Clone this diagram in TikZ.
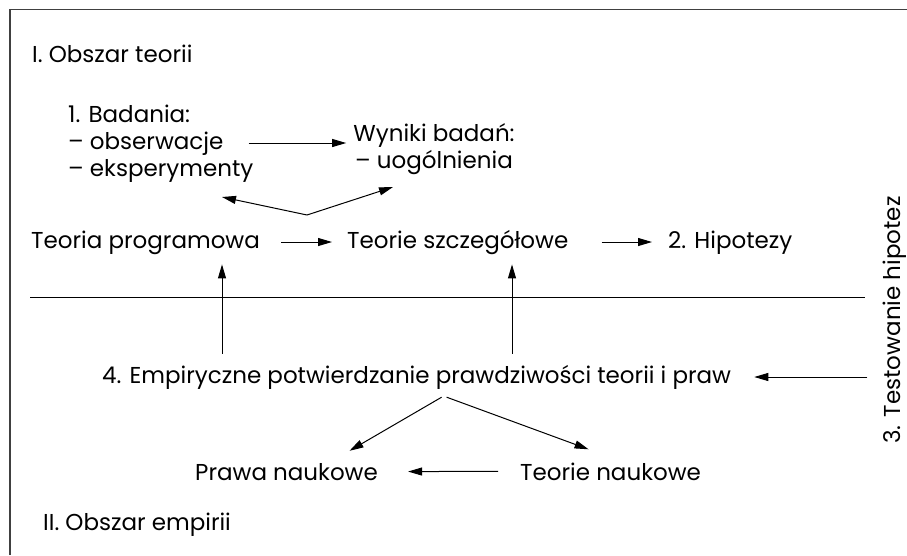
\documentclass[tikz,border=0pt]{standalone}
\usepackage{fontspec}
\setmainfont{Poppins}
\usetikzlibrary{arrows.meta,positioning,calc}

\begin{document}
\begin{tikzpicture}
[x=1pt,y=-1pt,
txt/.style={inner sep=0pt,font=\fontsize{23}{27}\selectfont},
block/.style={txt,align=left},
frame/.style={line width=1.6pt,draw=black!75},
myedge/.style={line width=1pt},
dedge/.style={myedge,-{Triangle[length=14pt,width=8pt]}}]
\useasboundingbox (0,0) rectangle (907,555);
%%
\draw[frame] (10,555) -- (10,9.5) -- (907,9.5);
\draw[myedge] (30,297) -- (865,297);
%%
\node (obszarT) [txt,anchor=base west] at (32,62) {I. Obszar teorii};
\node (badania) [block,anchor=north west] at (68,105) {1. Badania:\\– obserwacje\\– eksperymenty};
\node (wyniki) [txt,align=center,anchor=north] at (434,123) {Wyniki badań:\\– uogólnienia};
\node (programowa) [txt,anchor=base west] at (31,248) {Teoria programowa};
\node (szczegolowe) [txt,anchor=base west] at (347,248) {Teorie szczegółowe};
\node (hipotezy) [txt,anchor=base west] at (668,248) {2. Hipotezy};
\node (testowanie) [txt,anchor=base,rotate=90] at (900,320) {3. Testowanie hipotez};
\node (potwierdzanie) [txt,anchor=base west] at (102,383) {4. Empiryczne potwierdzanie prawdziwości teorii i praw};
\node (prawa) [txt,anchor=base west] at (195,480) {Prawa naukowe};
\node (teorie) [txt,anchor=base west] at (520,480) {Teorie naukowe};
\node (obszarE) [txt,anchor=base west] at (43,530) {II. Obszar empirii};
%%
\coordinate (fork) at (307,215);
\coordinate (badaniaTip) at (222,197);
\coordinate (wynikiTip) at (393,187);
\draw[dedge,shorten <=-5pt,shorten >=7pt] (badania.east |- 0,143) -- (wyniki.west |- 0,143);
\draw[dedge] (fork) -- (badaniaTip);
\draw[dedge] (fork) -- (wynikiTip);
\draw[dedge,shorten <=21pt,shorten >=15pt] (programowa.east |- 0,242) -- (szczegolowe.west |- 0,242);
\draw[dedge,shorten <=33pt,shorten >=16pt] (szczegolowe.east |- 0,242) -- (hipotezy.west |- 0,242);
\draw[dedge,shorten <=15pt,shorten >=23pt] (testowanie.north |- 0,377) -- (potwierdzanie.east |- 0,377);
\draw[dedge,shorten <=11pt,shorten >=10pt] (potwierdzanie.north -| 222,0) -- (programowa.south -| 222,0);
\draw[dedge,shorten <=11pt,shorten >=10pt] (potwierdzanie.north -| 512,0) -- (szczegolowe.south -| 512,0);
\draw[dedge] ($(potwierdzanie.south)+(25,8)$) -- ($(prawa.north)+(63,-12)$);
\draw[dedge] ($(potwierdzanie.south)+(30,8)$) -- ($(teorie.north)+(-22,-13)$);
\draw[dedge,shorten <=22pt,shorten >=30pt] (teorie.west) -- (prawa.east);
\end{tikzpicture}
\end{document}
